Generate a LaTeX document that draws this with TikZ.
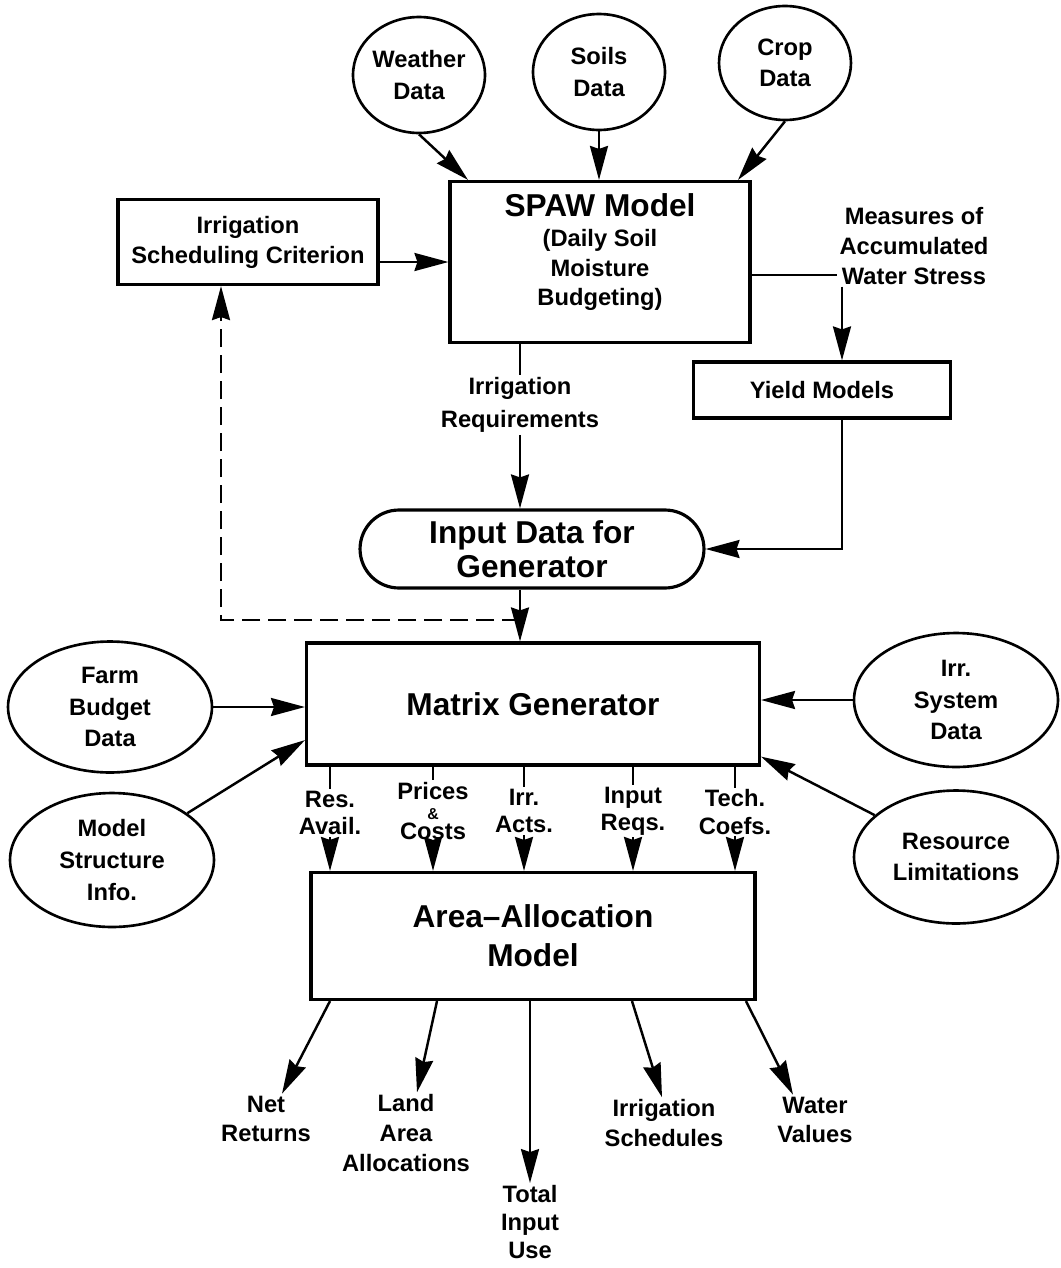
\documentclass[tikz,border=0pt]{standalone}
\usepackage{fontspec}
\setmainfont{Liberation Sans}
\usepackage{tikz}
\usetikzlibrary{arrows.meta,calc,positioning,shapes.geometric}
\newcommand{\irrfont}{\fontsize{13.5}{17}\selectfont\bfseries}
\newcommand{\irrbig}{\fontsize{18}{22}\selectfont\bfseries}
\tikzset{%
  irrbox/.style={%
    draw,
    line width=1.8pt,
    inner sep=2pt,
    align=center,
    font=\irrfont
  },
  irrdata/.style={%
    ellipse,
    draw,
    line width=1.5pt,
    inner sep=0pt,
    align=center,
    font=\fontsize{13.5}{18}\selectfont\bfseries
  },
  irrtext/.style={inner sep=1pt,align=center,font=\irrfont},
  irrarrow/.style={-{Stealth[length=6.8mm,width=3.6mm,inset=0.6mm]},line width=1.4pt},
  irrline/.style={line width=1.2pt},
  irrdash/.style={irrarrow,dash pattern=on 3.6mm off 1.6mm}
}

\begin{document}
\begin{tikzpicture}[x=0.02cm,y=-0.02cm]
    \useasboundingbox (0,0) rectangle (1061,1268);
    % soil moisture part
    \node[irrdata,minimum width=2.64cm,minimum height=2.32cm] (weather) at (419,75) {Weather\\Data};
    \node[irrdata,minimum width=2.64cm,minimum height=2.32cm] (soils) at (599,72) {Soils\\Data};
    \node[irrdata,minimum width=2.64cm,minimum height=2.28cm] (crop) at (785,63) {Crop\\Data};
    \node[irrbox,minimum width=6cm,minimum height=3.22cm,text depth=14pt] (spaw) at (600,262) {{\irrbig SPAW Model}\\(Daily Soil\\Moisture\\Budgeting)};
    \node[irrbox,minimum width=5.2cm,minimum height=1.7cm] (sched) at (248,242) {Irrigation\\Scheduling Criterion};
    \node[irrtext] (stress) at (914,246) {Measures of\\Accumulated\\Water Stress};
    \node[irrbox,minimum width=5.14cm,minimum height=1.12cm] (yield) at (822,390) {Yield Models};
    \node[irrtext,font=\fontsize{13.5}{19}\selectfont\bfseries] (irrreq) at (520,405) {Irrigation\\Requirements};
    \node[irrbox,rounded corners=0.78cm,minimum width=6.88cm,minimum height=1.56cm,font=\fontsize{18}{19}\selectfont\bfseries] (input) at (532,549) {Input Data for\\Generator};
    \coordinate (split) at (520,620);

    % generator and allocation model
    \node[irrbox,minimum width=9.06cm,minimum height=2.44cm,font=\irrbig] (matrix) at (533,704) {Matrix Generator};
    \node[irrdata,minimum width=4.08cm,minimum height=2.62cm] (farm) at (110,707) {Farm\\Budget\\Data};
    \node[irrdata,minimum width=4.08cm,minimum height=2.68cm] (structure) at (112,860) {Model\\Structure\\Info.};
    \node[irrdata,minimum width=4.08cm,minimum height=2.68cm] (irrsys) at (956,700) {Irr.\\System\\Data};
    \node[irrdata,minimum width=4.08cm,minimum height=2.66cm] (limits) at (956,857) {Resource\\Limitations};
    \node[irrbox,minimum width=8.88cm,minimum height=2.54cm,font=\irrbig] (area) at (533,936) {Area--Allocation\\Model};

    \node[irrtext,font=\fontsize{13.5}{15.5}\selectfont\bfseries] (resav) at (330,813) {Res.\\Avail.};
    \node[irrtext,font=\fontsize{13.5}{11.5}\selectfont\bfseries] (prices) at (433,811) {Prices\\{\small\&}\\Costs};
    \node[irrtext,font=\fontsize{13.5}{15.5}\selectfont\bfseries] (acts) at (524,811) {Irr.\\Acts.};
    \node[irrtext,font=\fontsize{13.5}{15.5}\selectfont\bfseries] (reqs) at (633,811) {Input\\Reqs.};
    \node[irrtext,font=\fontsize{13.5}{15.5}\selectfont\bfseries] (coefs) at (735,812) {Tech.\\Coefs.};

    % outputs
    \node[irrtext] (netret) at (266,1119) {Net\\Returns};
    \node[irrtext] (landarea) at (406,1133) {Land\\Area\\Allocations};
    \node[irrtext,font=\fontsize{13.5}{16}\selectfont\bfseries] (totaluse) at (530,1222) {Total\\Input\\Use};
    \node[irrtext] (irrsched) at (664,1123) {Irrigation\\Schedules};
    \node[irrtext] (watval) at (815,1120) {Water\\Values};

    \draw[irrarrow] (weather.south) -- (468,0 |- spaw.north);
    \draw[irrarrow] (soils.south) -- (soils.south |- spaw.north);
    \draw[irrarrow] (crop.south) -- (738,0 |- spaw.north);
    \draw[irrarrow] (sched.east |- spaw.west) -- (spaw.west);
    \draw[irrline] (spaw.east |- 0,275) -- (stress.west |- 0,275);
    \draw[irrarrow] (842,0 |- stress.south) -- (842,0 |- yield.north);
    \draw[irrline] (520,0 |- spaw.south) -- (irrreq.north);
    \draw[irrarrow] (irrreq.south) -- (irrreq.south |- input.north);
    \draw[irrarrow] (842,0 |- yield.south) |- (input.east);
    \draw[irrarrow] (520,0 |- input.south) -- (520,0 |- matrix.north);
    \draw[irrdash] (split) -| (221,0 |- sched.south);

    \draw[irrarrow] (farm.east) -- (farm.east -| matrix.west);
    \draw[irrarrow] (structure) -- (matrix.189);
    \draw[irrarrow] (irrsys.west) -- (irrsys.west -| matrix.east);
    \draw[irrarrow] (limits) -- (matrix.347);
    \foreach \lab in {resav,prices,acts,reqs,coefs} {
      \draw[irrline] (\lab.north |- matrix.south) -- (\lab.north);
      \draw[irrarrow] (\lab.south) -- (\lab.south |- area.north);
    }

    \draw[irrarrow] (330,0 |- area.south) -- (282,0 |- netret.north);
    \draw[irrarrow] (437,0 |- area.south) -- (417,0 |- landarea.north);
    \draw[irrarrow] (totaluse.north |- area.south) -- (totaluse.north);
    \draw[irrarrow] (632,0 |- area.south) -- (662,0 |- irrsched.north);
    \draw[irrarrow] (746,0 |- area.south) -- (793,0 |- watval.north);
  \end{tikzpicture}
\end{document}
